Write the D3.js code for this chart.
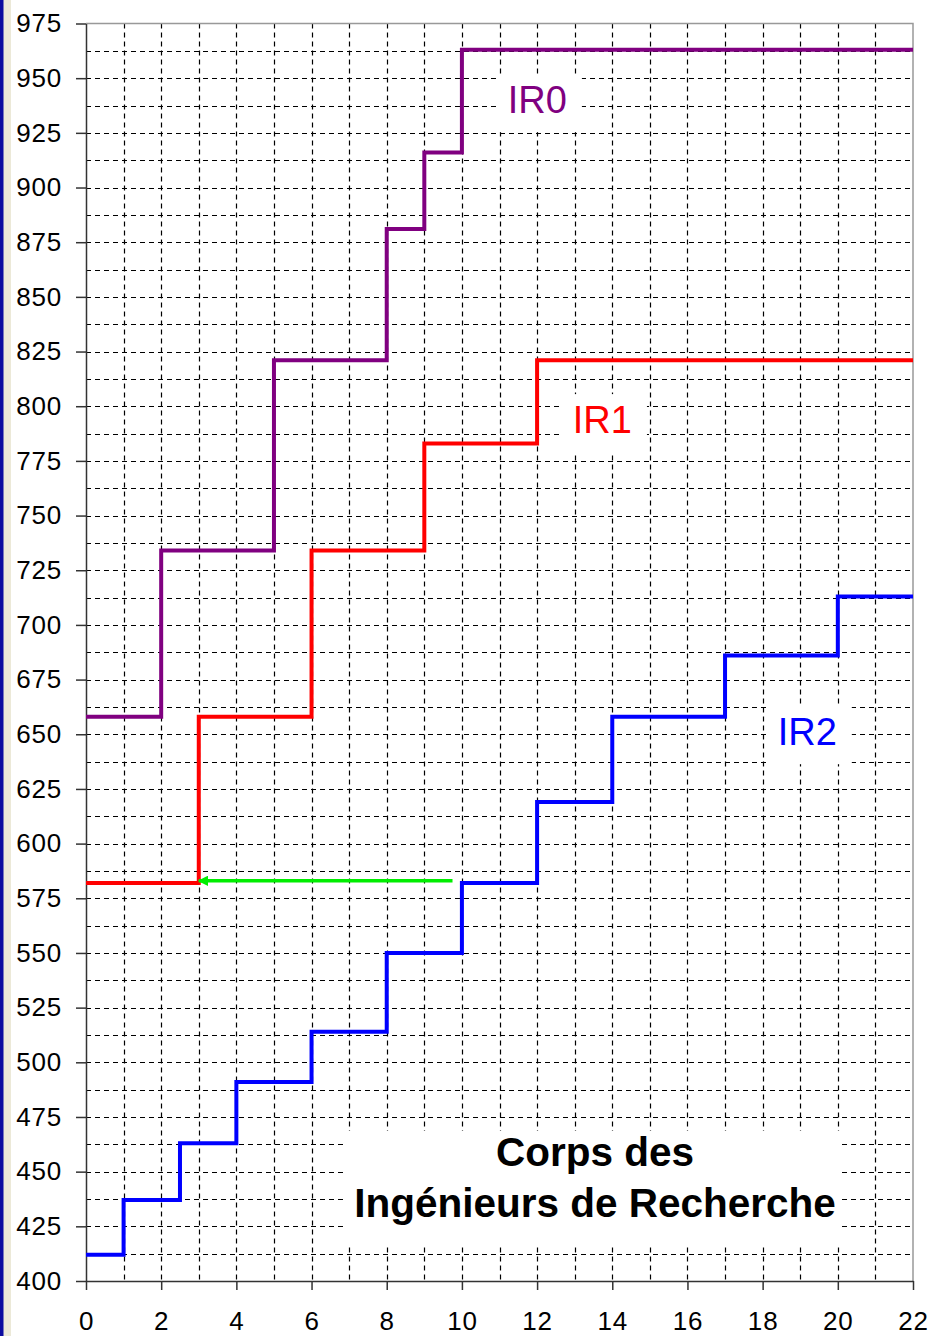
<!DOCTYPE html>
<html>
<head>
<meta charset="utf-8">
<script src="https://cdn.jsdelivr.net/npm/d3@7"></script>
<style>
  body { margin: 0; background: #fff; }
  svg { display: block; font-family: "Liberation Sans", Arial, sans-serif; }
</style>
</head>
<body>
<script>
// data: years (échelon breakpoints) and index values
var ir0Years  = [0, 2, 5, 8, 9, 10, 22],
    ir0Index  = [658, 734, 821, 881, 916, 963, 963];
var ir1Years  = [0, 3, 6, 9, 12, 22],
    ir1Index  = [582, 658, 734, 783, 821, 821];
var ir2Years  = [0, 1, 2.5, 4, 6, 8, 10, 12, 14, 17, 20, 22],
    ir2Index  = [412, 437, 463, 491, 514, 550, 582, 619, 658, 686, 713, 713];
var arrowYears = [9.75, 3],
    arrowIndex = [583, 583];

var seriesNames = ['IR0', 'IR1', 'IR2'];
var xTicks = d3.range(0, 23, 2);
var yTicks = d3.range(400, 976, 25);
var titleLines = ['Corps des', 'Ingénieurs de Recherche'];

// init
var width  = 933,
    height = 1336,
    margin = { top: 23.5, right: 20, bottom: 55, left: 86 };

var xScale = d3.scaleLinear().domain([0, 22]).range([margin.left, width - margin.right]);
var yScale = d3.scaleLinear().domain([400, 975]).range([height - margin.bottom, margin.top]);

var svg = d3.select('body')
    .append('svg')
    .attr('width', width)
    .attr('height', height);

// window frame on the left
svg.append('rect').attr('x', 0).attr('y', 0).attr('width', 11).attr('height', height).attr('fill', '#ece9d8');
svg.append('rect').attr('x', 0).attr('y', 0).attr('width', 3.5).attr('height', height).attr('fill', '#0c0ca0');

/**
 * dashed grid
 */
function drawGrid() {
    var g = svg.append('g')
        .attr('stroke', '#000')
        .attr('stroke-width', 1.2)
        .attr('stroke-dasharray', '5,4');
    g.selectAll('line.v')
        .data(d3.range(1, 22))
        .join('line')
        .attr('class', 'v')
        .attr('x1', d => Math.round(xScale(d)) + 0.5)
        .attr('x2', d => Math.round(xScale(d)) + 0.5)
        .attr('y1', yScale(975))
        .attr('y2', yScale(400));
    g.selectAll('line.h')
        .data(d3.range(412.5, 975, 12.5))
        .join('line')
        .attr('class', 'h')
        .attr('x1', xScale(0))
        .attr('x2', xScale(22))
        .attr('y1', d => Math.round(yScale(d)) + 0.5)
        .attr('y2', d => Math.round(yScale(d)) + 0.5);

    // frame: top and right
    svg.append('path')
        .attr('fill', 'none')
        .attr('stroke', '#999')
        .attr('stroke-width', 1.5)
        .attr('d', 'M' + xScale(0) + ',' + yScale(975) + 'H' + xScale(22) + 'V' + yScale(400));
}

/**
 * axes
 */
function drawAxes() {
    var yAxis = d3.axisLeft(yScale).tickValues(yTicks).tickSize(10).tickSizeOuter(0).tickPadding(14);
    var gy = svg.append('g')
        .attr('transform', 'translate(' + xScale(0) + ',0)')
        .call(yAxis);

    var xAxis = d3.axisBottom(xScale).tickValues(xTicks).tickSize(9).tickSizeOuter(0).tickPadding(22);
    var gx = svg.append('g')
        .attr('transform', 'translate(0,' + yScale(400) + ')')
        .call(xAxis);

    [gx, gy].forEach(function (g) {
        g.selectAll('path, line').attr('stroke', '#333').attr('stroke-width', 1.5);
        g.selectAll('text')
            .attr('fill', '#000')
            .style('font-size', '26px')
            .style('letter-spacing', '0.8px');
    });
}

/**
 * white boxes behind texts + texts
 */
function drawLabel(text, color, xVal, yVal) {
    var g = svg.append('g');
    var t = g.append('text')
        .attr('x', xScale(xVal))
        .attr('y', yScale(yVal))
        .attr('fill', color)
        .style('font-size', '38px')
        .text(text);
    var b = t.node().getBBox();
    g.insert('rect', 'text')
        .attr('x', b.x - 11)
        .attr('y', b.y - 5)
        .attr('width', b.width + 26)
        .attr('height', b.height + 16)
        .attr('fill', '#fff');
}

function drawTitle() {
    var g = svg.append('g');
    var cx = 595;
    g.append('rect')
        .attr('x', 346).attr('y', 1131)
        .attr('width', 496).attr('height', 113)
        .attr('fill', '#fff');
    g.selectAll('text')
        .data(titleLines)
        .join('text')
        .attr('x', cx)
        .attr('y', (d, i) => 1166 + i * 51)
        .attr('text-anchor', 'middle')
        .attr('font-weight', 'bold')
        .style('font-size', '40.5px')
        .attr('fill', '#000')
        .text(d => d);
}

/**
 * step lines
 */
function drawSeries(xs, ys, color) {
    var pts = xs.map((d, i) => [d, ys[i]]);
    var line = d3.line()
        .x(d => xScale(d[0]))
        .y(d => yScale(d[1]))
        .curve(d3.curveStepAfter);
    svg.append('path')
        .datum(pts)
        .attr('fill', 'none')
        .attr('stroke', color)
        .attr('stroke-width', 4)
        .attr('d', line);
}

function drawArrow() {
    svg.append('defs').append('marker')
        .attr('id', 'arrowhead')
        .attr('viewBox', '0 0 10 10')
        .attr('refX', 9).attr('refY', 5)
        .attr('markerWidth', 3).attr('markerHeight', 3)
        .attr('markerUnits', 'strokeWidth')
        .attr('orient', 'auto')
        .append('path')
        .attr('d', 'M0,0L10,5L0,10Z')
        .attr('fill', '#00ee00');
    var pts = arrowYears.map((d, i) => [d, arrowIndex[i]]);
    svg.append('path')
        .datum(pts)
        .attr('fill', 'none')
        .attr('stroke', '#00ee00')
        .attr('stroke-width', 3.5)
        .attr('marker-end', 'url(#arrowhead)')
        .attr('d', d3.line().x(d => xScale(d[0])).y(d => yScale(d[1])));
}

function draw() {
    drawGrid();
    drawAxes();
    drawTitle();
    drawLabel(seriesNames[0], '#800080', 11.22, 934);
    drawLabel(seriesNames[1], '#ff0000', 12.95, 787.7);
    drawLabel(seriesNames[2], '#0000ff', 18.4, 645);
    drawSeries(ir1Years, ir1Index, '#ff0000');
    drawSeries(ir0Years, ir0Index, '#800080');
    drawSeries(ir2Years, ir2Index, '#0000ff');
    drawArrow();
}

draw();
</script>
</body>
</html>
